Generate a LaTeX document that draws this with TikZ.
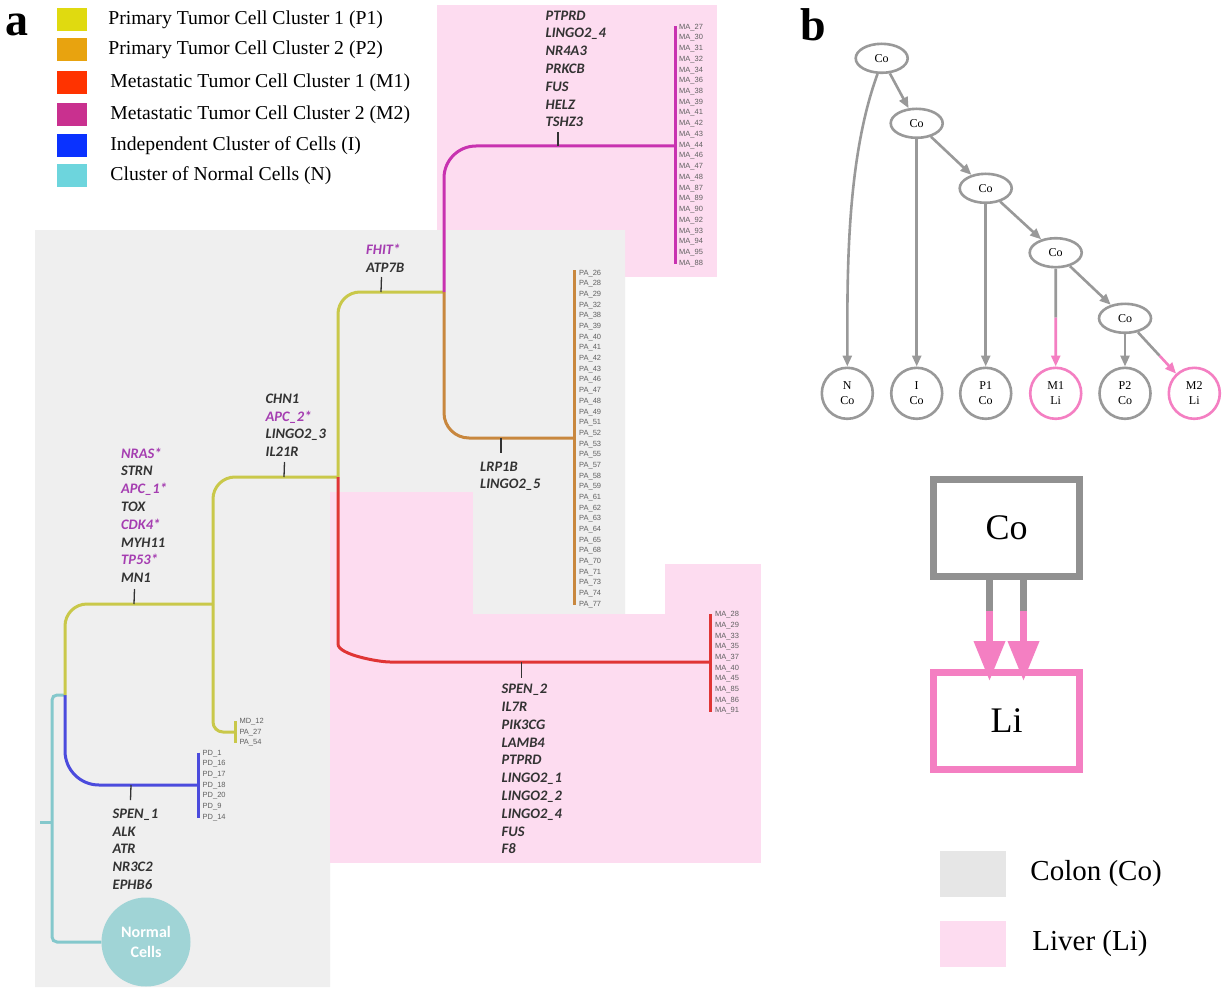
\documentclass[tikz,border=0pt]{standalone}
\usepackage{fontspec}
\setmainfont{Liberation Serif}
\newfontfamily\genefont{Carlito}
\newfontfamily\leaffont{Liberation Sans}
\usetikzlibrary{arrows.meta}
\usetikzlibrary{shapes.geometric}
\usetikzlibrary{positioning}
\usetikzlibrary{calc}

\definecolor{clP1}{HTML}{C9C84A}
\definecolor{clP2}{HTML}{C8873E}
\definecolor{clM1}{HTML}{E03535}
\definecolor{clM2}{HTML}{C832B0}
\definecolor{clI}{HTML}{4B4BDD}
\definecolor{clN}{HTML}{84C8CC}
\definecolor{keyP1}{HTML}{E0DA10}
\definecolor{keyP2}{HTML}{E8A30F}
\definecolor{keyM1}{HTML}{FF3300}
\definecolor{keyM2}{HTML}{C9308F}
\definecolor{keyI}{HTML}{0A32FF}
\definecolor{keyN}{HTML}{6DD5DD}
\definecolor{colonbg}{HTML}{EFEFEF}
\definecolor{colonkey}{HTML}{E6E6E6}
\definecolor{liverbg}{HTML}{FDDCF0}
\definecolor{genetxt}{HTML}{333333}
\definecolor{mutated}{HTML}{A53DB1}
\definecolor{treegray}{HTML}{999999}
\definecolor{treepink}{HTML}{F47FC2}
\definecolor{normalcirc}{HTML}{A0D4D6}

\newcommand{\mutgene}[1]{\textcolor{mutated}{#1}}

\begin{document}
\begin{tikzpicture}[x=1pt, y=-1pt,
    branch/.style={line width=3pt, rounded corners=22pt},
    leafbar/.style={line width=3pt},
    tick/.style={line width=1.3pt, genetxt},
    leaf/.style={anchor=west, inner sep=0pt, text=black!62, font=\leaffont\fontsize{7.5}{8}\selectfont},
    genes/.style={anchor=north west, inner sep=0pt, align=left, text=genetxt, font=\genefont\bfseries\itshape\fontsize{14.5}{17.8}\selectfont},
    keybox/.style={minimum width=30pt, minimum height=23pt, inner sep=0pt},
    keytext/.style={anchor=west, inner sep=0pt, font=\fontsize{19.7}{22}\selectfont},
    tnode/.style={draw=treegray, line width=2.6pt, ellipse, minimum width=52pt, minimum height=29pt, inner sep=0pt, font=\fontsize{12}{14}\selectfont},
    tleaf/.style={draw=treegray, line width=2.6pt, circle, minimum size=51pt, inner sep=0pt, align=center, font=\fontsize{12}{15}\selectfont},
    tedge/.style={draw=treegray, line width=2.6pt, -{Triangle[length=11pt,width=9pt]}},
    pedge/.style={draw=treepink, line width=2.6pt, -{Triangle[length=11pt,width=9pt]}},
    bigbox/.style={rectangle, line width=7pt, minimum width=146pt, minimum height=97pt, font=\fontsize{36}{40}\selectfont},
  ]
  \useasboundingbox (0,0) rectangle (1225,987);
  \fill[white] (0,0) rectangle (1225,987);

  % backgrounds
  \fill[liverbg] (437,5) rectangle (717,277);
  \fill[colonbg] (35,230) -- (625,230) -- (625,614) -- (330,614) -- (330,987) -- (35,987) -- cycle;
  \fill[liverbg] (330,492) rectangle (473,614);
  \fill[liverbg] (665,564) rectangle (761,614);
  \fill[liverbg] (330,614) rectangle (761,863);

  % panel labels
  \node[anchor=base west, inner sep=0pt, font=\bfseries\fontsize{46}{46}\selectfont] (lbla) at (5,36) {a};
  \node[anchor=base west, inner sep=0pt, font=\bfseries\fontsize{46}{46}\selectfont] (lblb) at (800,41) {b};

  % legend
  \foreach \c/\t/\y/\gap in {keyP1/Primary Tumor Cell Cluster 1 (P1)/19.5/21,
                        keyP2/Primary Tumor Cell Cluster 2 (P2)/49.5/21,
                        keyM1/Metastatic Tumor Cell Cluster 1 (M1)/82.5/23,
                        keyM2/Metastatic Tumor Cell Cluster 2 (M2)/114.5/23,
                        keyI/Independent Cluster of Cells (I)/145.5/23,
                        keyN/Cluster of Normal Cells (N)/175.5/23}{
    \node[keybox, fill=\c] (sw\c) at (72,\y) {};
    \node[keytext, right=\gap pt of sw\c] (tx\c) {\t};
  }

  % tree junctions
  \coordinate (root) at (40,822);
  \coordinate (nJ) at (52,822);
  \coordinate (jA) at (65,695);
  \coordinate (jB) at (213,604);
  \coordinate (jC) at (338,477);
  \coordinate (jD) at (444,292);
  \coordinate (m1a) at (338,622);
  \coordinate (m1b) at (412,662);
  \coordinate (endI) at (198,785);
  \coordinate (endP1) at (235,732);
  \coordinate (endM1) at (710,662);
  \coordinate (endM2) at (675,146);
  \coordinate (endP2) at (574,438);

  \node[circle, fill=normalcirc, minimum size=89pt, inner sep=0pt, align=center, text=white,
        font=\genefont\bfseries\fontsize{16}{20}\selectfont] (normal) at (146,942) {Normal\\Cells};

  % branches
  \draw[branch, clN, rounded corners=5pt] (jA) -| (nJ) |- (normal);
  \draw[branch, clN] (root) -- (nJ);
  \draw[branch, clI, rounded corners=34pt] (jA) |- (endI);
  \draw[branch, clP1] (jA) |- (jB);
  \draw[branch, clP1] (jB) |- (jC);
  \draw[branch, clP1, rounded corners=10pt] (jB) |- (endP1);
  \draw[branch, clP1] (jC) |- (jD);
  \draw[branch, clM1] (jC) -- (m1a) to[out=-90, in=180] (m1b) -- (endM1);
  \draw[branch, clM2, rounded corners=32pt] (jD) |- (endM2);
  \draw[branch, clP2, rounded corners=25pt] (jD) |- (endP2);

  % leaf bars
  \draw[leafbar, clM2] (675,26.5) -- (675,263.5);
  \draw[leafbar, clP2] (574,270) -- (574,605);
  \draw[leafbar, clM1] (710,614) -- (710,711.5);
  \draw[leafbar, clI] (198,752.5) -- (198,817.5);
  \draw[leafbar, clP1] (235,721) -- (235,743);

  % leaf labels
  \foreach \n [count=\i from 0] in {27,30,31,32,34,36,38,39,41,42,43,44,46,47,48,87,89,90,92,93,94,95,88}
    \node[leaf] (lmt\i) at (679,27.3+10.73*\i) {MA\_\n};
  \foreach \n [count=\i from 0] in {26,28,29,32,38,39,40,41,42,43,46,47,48,49,51,52,53,55,57,58,59,61,62,63,64,65,68,70,71,73,74,77}
    \node[leaf] (lpa\i) at (579,273.3+10.68*\i) {PA\_\n};
  \foreach \n [count=\i from 0] in {28,29,33,35,37,40,45,85,86,91}
    \node[leaf] (lmb\i) at (715,615+10.67*\i) {MA\_\n};
  \foreach \n [count=\i from 0] in {1,16,17,18,20,9,14}
    \node[leaf] (lpd\i) at (202.5,753.3+10.67*\i) {PD\_\n};
  \node[leaf] (lmd0) at (239.3,721.7) {MD\_12};
  \node[leaf] (lmd1) at (239.3,732.3) {PA\_27};
  \node[leaf] (lmd2) at (239.3,742.7) {PA\_54};

  % mutation lists
  \node[genes] (gM2) at (545.5,10.5) {PTPRD\\LINGO2\_4\\NR4A3\\PRKCB\\FUS\\HELZ\\TSHZ3};
  \node[genes] (gP1c) at (366,244) {\mutgene{FHIT*}\\ATP7B};
  \node[genes] (gP1b) at (265.5,393.5) {CHN1\\\mutgene{APC\_2*}\\LINGO2\_3\\IL21R};
  \node[genes] (gP1a) at (121,447.5) {\mutgene{NRAS*}\\STRN\\\mutgene{APC\_1*}\\TOX\\\mutgene{CDK4*}\\MYH11\\\mutgene{TP53*}\\MN1};
  \node[genes] (gI) at (112.5,808.5) {SPEN\_1\\ALK\\ATR\\NR3C2\\EPHB6};
  \node[genes] (gP2) at (480,461.5) {LRP1B\\LINGO2\_5};
  \node[genes] (gM1) at (501.5,684) {SPEN\_2\\IL7R\\PIK3CG\\LAMB4\\PTPRD\\LINGO2\_1\\LINGO2\_2\\LINGO2\_4\\FUS\\F8};

  % ticks
  \coordinate (tkP1a) at (134,604);
  \coordinate (tkP1b) at (284,477);
  \coordinate (tkP1c) at (381,292);
  \coordinate (tkM2) at (558,146);
  \coordinate (tkP2) at (501,438);
  \coordinate (tkM1) at (521.5,662);
  \coordinate (tkI) at (131,785);
  \draw[tick] (tkP1a) -- ++(0.5,-15);
  \draw[tick] (tkP1b) -- ++(0.5,-15);
  \draw[tick] (tkP1c) -- ++(0.5,-15);
  \draw[tick] (tkM2) -- ++(0,-14);
  \draw[tick] (tkP2) -- ++(0,15);
  \draw[tick] (tkM1) -- ++(0,16);
  \draw[tick] (tkI) -- ++(-0.5,15);

  % panel b: location tree
  \node[tnode] (c1) at (881.7,58.3) {Co};
  \node[tnode] (c2) at (916.7,123.3) {Co};
  \node[tnode] (c3) at (985.7,188.3) {Co};
  \node[tnode] (c4) at (1055.7,252.7) {Co};
  \node[tnode] (c5) at (1125,318.3) {Co};
  \node[tleaf] (lN) at (847.3,393.3) {N\\Co};
  \node[tleaf] (lI) at (916.7,393.3) {I\\Co};
  \node[tleaf] (lP1) at (985.7,393.3) {P1\\Co};
  \node[tleaf, draw=treepink] (lM1) at (1055.7,393.3) {M1\\Li};
  \node[tleaf] (lP2) at (1125,393.3) {P2\\Co};
  \node[tleaf, draw=treepink] (lM2) at (1194.3,393.3) {M2\\Li};

  \draw[tedge] (c1) -- (c2);
  \draw[tedge] (c2) -- (c3);
  \draw[tedge] (c3) -- (c4);
  \draw[tedge] (c4) -- (c5);
  \draw[tedge] (c1.255) to[out=250, in=90, looseness=0.8] (lN);
  \draw[tedge] (c2) -- (lI);
  \draw[tedge] (c3) -- (lP1);
  \draw[tedge] (c5) -- (lP2);
  \draw[treegray, line width=2.6pt] (c4) -- ($(c4.south)!0.5!(lM1.north)$);
  \draw[pedge] ($(c4.south)!0.5!(lM1.north)$) -- (lM1);
  \coordinate (m2mid) at ($(c5)!0.5!(lM2)$);
  \draw[treegray, line width=2.6pt] (c5) -- (m2mid);
  \draw[pedge] (m2mid) -- (lM2);

  % panel b: site graph
  \node[bigbox, draw=treegray!95!black] (cobox) at (1006.5,528) {Co};
  \node[bigbox, draw=treepink] (libox) at (1006.5,721) {Li};
  \foreach \dx in {-17,17}{
    \coordinate (as\dx) at ([xshift=\dx pt]cobox.south);
    \coordinate (ae\dx) at ([xshift=\dx pt]libox.north);
    \coordinate (am\dx) at ($(as\dx)!0.35!(ae\dx)$);
    \draw[treegray!95!black, line width=7pt] (as\dx) -- (am\dx);
    \draw[treepink, line width=7pt, -{Triangle[length=40pt,width=30pt]}, shorten >=-12pt] (am\dx) -- (ae\dx);
  }

  % panel b: key
  \node[minimum width=66pt, minimum height=46pt, inner sep=0pt, fill=colonkey] (kCo) at (973,874) {};
  \node[minimum width=66pt, minimum height=46pt, inner sep=0pt, fill=liverbg] (kLi) at (973,944) {};
  \node[anchor=west, inner sep=0pt, font=\fontsize{29}{32}\selectfont, right=24pt of kCo] (tCo) {Colon (Co)};
  \node[anchor=west, inner sep=0pt, font=\fontsize{29}{32}\selectfont, right=26pt of kLi] (tLi) {Liver (Li)};
\end{tikzpicture}
\end{document}
